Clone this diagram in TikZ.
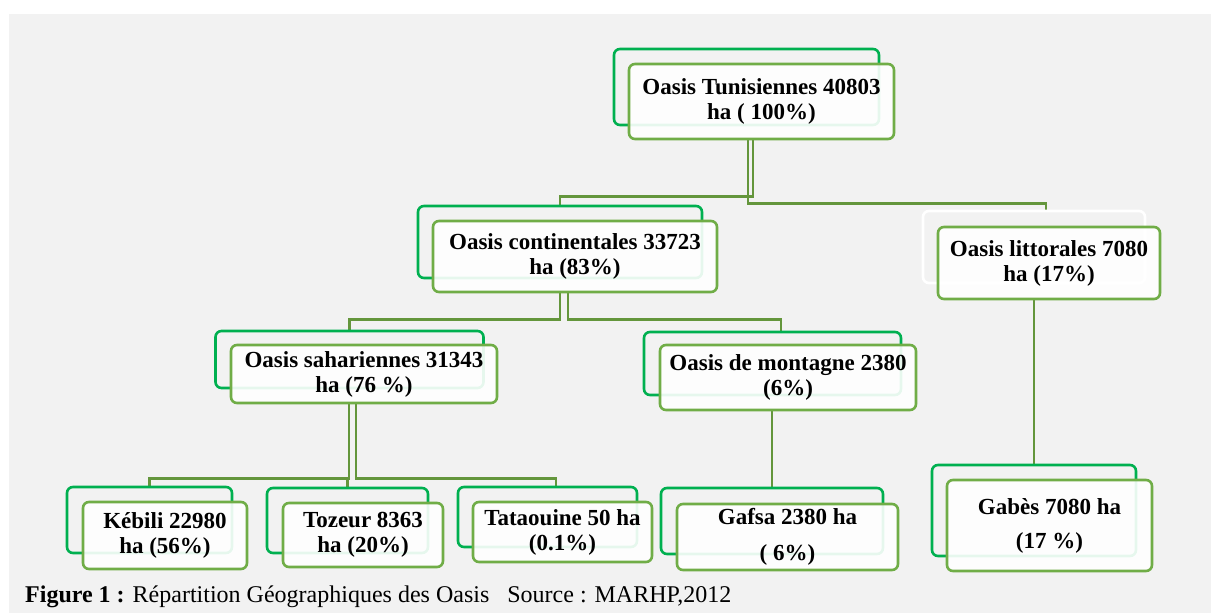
\documentclass[tikz,border=0pt]{standalone}
\usepackage{fontspec}
\setmainfont{Liberation Serif}
\definecolor{bggrey}{HTML}{F2F2F2}
\definecolor{backgreen}{HTML}{00B050}
\definecolor{frontgreen}{HTML}{70AD47}
\definecolor{conngreen}{HTML}{64963C}
\pgfdeclarelayer{bgl}
\pgfsetlayers{bgl,main}
\begin{document}
\begin{tikzpicture}[x=1pt,y=-1pt,
  backbox/.style={draw=backgreen, line width=2.6pt, rounded corners=6pt, inner sep=0pt},
  frontbox/.style={draw=frontgreen, line width=2.6pt, rounded corners=6pt, fill=white, fill opacity=0.9, text opacity=1, inner sep=0pt, align=center, text=black, font=\bfseries\fontsize{23}{25}\selectfont},
  conn/.style={draw=conngreen, line width=2.5pt},
]
\useasboundingbox (0,0) rectangle (1211,613);
\begin{pgfonlayer}{bgl}
\fill[white] (0,0) rectangle (1211,613);
\fill[bggrey] (9,14) rectangle (1211,613);
\end{pgfonlayer}

% back boxes
\node[backbox, minimum width=265pt, minimum height=76pt] (topb) at (746.5,87) {};
\node[backbox, minimum width=284pt, minimum height=72pt] (contb) at (560,242) {};
\node[backbox, draw=white, minimum width=222pt, minimum height=72pt] (littb) at (1034,247) {};
\node[backbox, minimum width=268pt, minimum height=57pt] (sahb) at (349.5,359.5) {};
\node[backbox, minimum width=257pt, minimum height=63pt] (montb) at (772.5,363.5) {};
\node[backbox, minimum width=165pt, minimum height=66pt] (kebb) at (149.5,520) {};
\node[backbox, minimum width=161pt, minimum height=65pt] (tozb) at (347.5,520.5) {};
\node[backbox, minimum width=179pt, minimum height=60pt] (tatb) at (547.5,517) {};
\node[backbox, minimum width=222pt, minimum height=66pt] (gafb) at (772,521) {};
\node[backbox, minimum width=204pt, minimum height=91pt] (gabb) at (1034,510.5) {};

% front boxes
\node[frontbox, minimum width=265pt, minimum height=75pt] (top) at (761.5,101.5) {Oasis Tunisiennes 40803\\ha ( 100\%)};
\node[frontbox, minimum width=284pt, minimum height=71pt] (cont) at (575,256.5) {Oasis continentales 33723\\ha (83\%)};
\node[frontbox, minimum width=222pt, minimum height=72pt] (litt) at (1049,263) {Oasis littorales 7080\\ha (17\%)};
\node[frontbox, minimum width=266pt, minimum height=58pt] (sah) at (364,374) {Oasis sahariennes 31343\\ha (76 \%)};
\node[frontbox, minimum width=256pt, minimum height=65pt] (mont) at (788,377.5) {Oasis de montagne 2380\\(6\%)};
\node[frontbox, minimum width=164pt, minimum height=67pt] (keb) at (165,535.5) {Kébili 22980\\ha (56\%)};
\node[frontbox, minimum width=160pt, minimum height=64pt] (toz) at (363,535) {Tozeur 8363\\ha (20\%)};
\node[frontbox, minimum width=179pt, minimum height=60pt] (tat) at (562.5,532) {Tataouine 50 ha\\(0.1\%)};
\node[frontbox, minimum width=221pt, minimum height=66pt] (gaf) at (787.5,537) {Gafsa 2380 ha\\[11pt]( 6\%)};
\node[frontbox, minimum width=205pt, minimum height=91pt] (gab) at (1049.5,525.5) {Gabès 7080 ha\\[9pt](17 \%)};

% connectors
\begin{pgfonlayer}{bgl}
\draw[conn] ([xshift=-13.5pt]top.south) -- ++(0,63) -| ([xshift=12pt]littb.north);
\draw[conn] ([xshift=-8.5pt]top.south) -- ++(0,56) -| (contb.north);
\draw[conn] ([xshift=-15pt]cont.south) -- ++(0,26) -| (sahb.north);
\draw[conn] ([xshift=-7pt]cont.south) -- ++(0,26) -| ([xshift=8.5pt]montb.north);
\draw[conn] ([xshift=-15pt]sah.south) -- ++(0,74) -| (kebb.north);
\draw[conn] ([xshift=-15pt]sah.south) -- ++(0,74) -| (tozb.north);
\draw[conn] ([xshift=-8pt]sah.south) -- ++(0,74) -| ([xshift=8.5pt]tatb.north);
\draw[conn] (gafb.north |- mont.south) -- (gafb.north);
\draw[conn] (gabb.north |- litt.south) -- (gabb.north);
\end{pgfonlayer}

% caption
\node[anchor=base west, inner sep=0pt, font=\fontsize{24}{28}\selectfont] (cap) at (25,602) {\textbf{Figure 1 :} Répartition Géographiques des Oasis \ \ Source : MARHP,2012};
\end{tikzpicture}
\end{document}
